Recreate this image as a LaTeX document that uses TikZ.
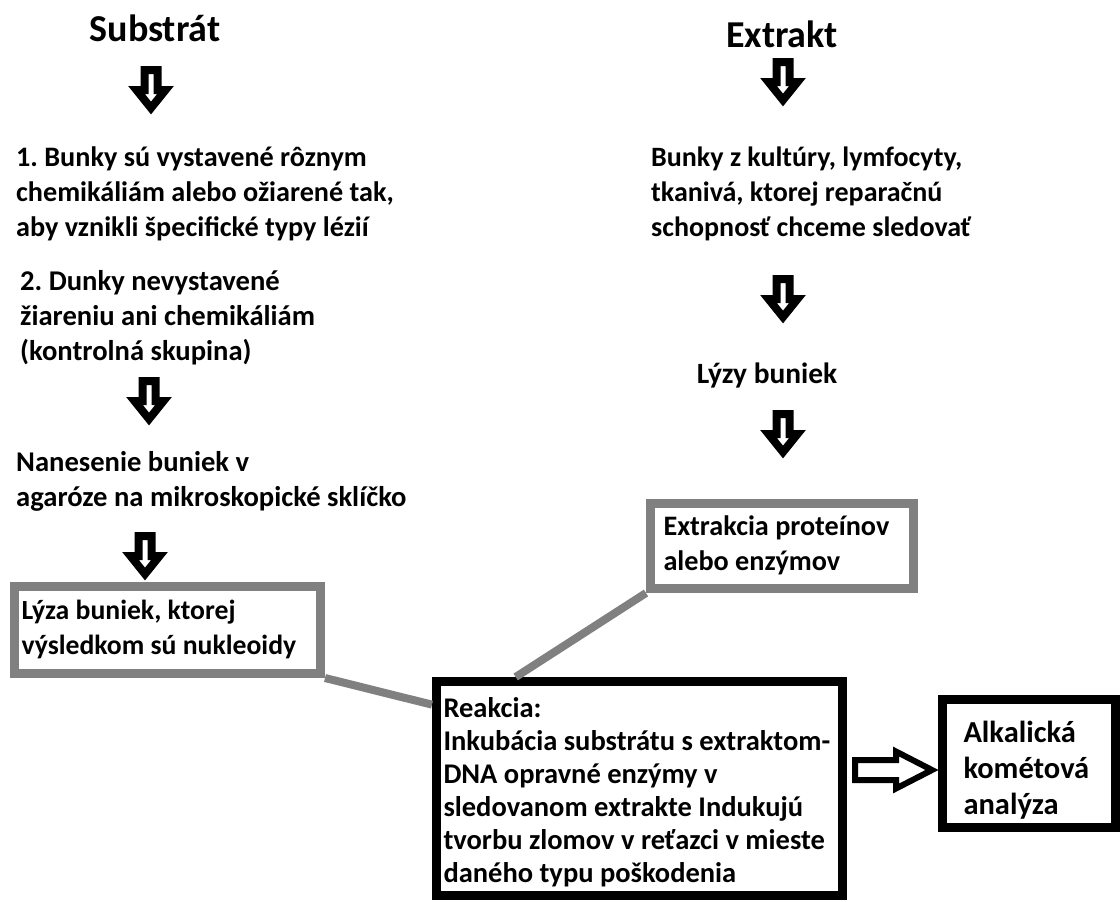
\documentclass[tikz,border=0pt]{standalone}
\usepackage{fontspec}
\setmainfont{Carlito}
\usetikzlibrary{positioning}
\definecolor{FrameGray}{RGB}{128,128,128}
\frenchspacing
\hyphenpenalty=10000

\begin{document}
\begin{tikzpicture}[x=1pt,y=-1pt,
title/.style={font=\fontsize{38}{44}\selectfont\bfseries,inner sep=0pt,anchor=base},
txt/.style={font=\fontsize{#1}{35}\selectfont\bfseries,align=flush left,inner sep=0pt,
  execute at begin node=\strut,execute at end node=\strut},
txt/.default=28.5,
box/.style={txt=#1,rectangle,draw=black,line width=9pt,fill=white,inner ysep=0pt},
box/.default=28.5,
graybox/.style={box=#1,draw=FrameGray},
graybox/.default=28.5,
darr/.pic={\draw[line width=8pt,fill=white] (-6.5,0) -- (6.5,0) -- (6.5,20) -- (14.5,20)
  -- (0,38) -- (-14.5,20) -- (-6.5,20) -- cycle;},
rarr/.pic={\draw[line width=6pt,fill=white] (0,-10) -- (41,-10) -- (41,-18.5) -- (77,0)
  -- (41,18.5) -- (41,10) -- (0,10) -- cycle;},
link/.style={draw=FrameGray,line width=8pt}
]
\useasboundingbox (0,0) rectangle (1120,902);
% substrat column
\node[title] (sub) at (155,41) {Substrát};
\pic (a1) at (151,70) {darr};
\node[txt=28.2,anchor=north west] (t1) at (16,146.5) {1. Bunky sú vystavené rôznym\\chemikáliám alebo ožiarené tak,\\aby vznikli špecifické typy lézií};
\node[txt=28.6,anchor=north west] (t2) at (20,270.5) {2. Dunky nevystavené\\žiareniu ani chemikáliám\\(kontrolná skupina)};
\pic (a2) at (149,381) {darr};
\node[txt=28.6,anchor=north west] (t3) at (16,451.5) {Nanesenie buniek v\\agaróze na mikroskopické sklíčko};
\pic (a3) at (145,536) {darr};
\node[graybox=27.7,minimum width=306pt,minimum height=87pt,text width=292pt,inner xsep=7pt] (lyza) at (167.5,630) {Lýza buniek, ktorej\\výsledkom sú nukleoidy};
% extrakt column
\node[title] (ext) at (782,47) {Extrakt};
\pic (b1) at (783,62) {darr};
\node[txt=28,anchor=north west] (e1) at (651,146.5) {Bunky z kultúry, lymfocyty,\\tkanivá, ktorej reparačnú\\schopnosť chceme sledovať};
\pic (b2) at (783,279) {darr};
\node[txt=29.4,anchor=base] (e2) at (767,383) {Lýzy buniek};
\pic (b3) at (783,414) {darr};
\node[graybox=28.2,minimum width=263pt,minimum height=85pt,text width=237pt,inner xsep=13pt] (extr) at (782,546) {Extrakcia proteínov\\alebo enzýmov};
% reaction and analysis
\node[box,font=\fontsize{28.5}{33}\selectfont\bfseries,minimum width=406pt,minimum height=214pt,
  text width=392pt,inner xsep=7pt,execute at begin node={\rule{0pt}{32pt}}] (reak) at (639.5,788.5) {Reakcia:\\Inkubácia substrátu s extraktom-\\DNA opravné enzýmy v\\sledovanom extrakte Indukujú\\tvorbu zlomov v reťazci v mieste\\daného typu poškodenia};
\node[box,font=\fontsize{30.5}{36}\selectfont\bfseries,minimum width=173pt,minimum height=128pt,
  text width=131pt,inner xsep=21pt,execute at begin node={\rule{0pt}{40pt}}] (alk) at (1029,763.5) {Alkalická\\kométová\\analýza};
\draw[link] (lyza.south east) -- (reak.158);
\draw[link] (extr.south west) -- (reak.138);
\coordinate (mid) at (reak.east |- alk.west);
\pic (res) at ([xshift=8pt,yshift=-6.5pt]mid) {rarr};
\end{tikzpicture}
\end{document}
